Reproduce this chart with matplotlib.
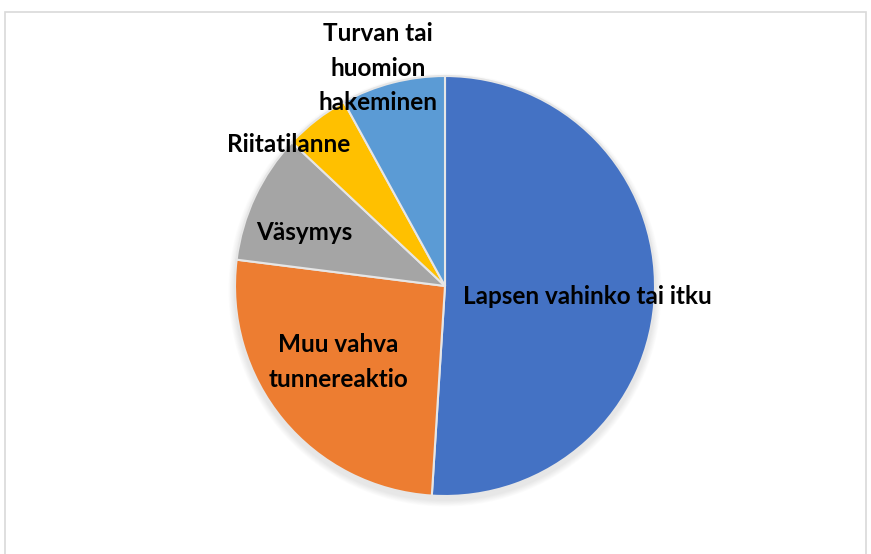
import matplotlib.pyplot as plt
from matplotlib.patches import Rectangle, Circle

# ----------------------------------------------------------
# Data (share of cases, %)
# ----------------------------------------------------------

labels = [
    "Lapsen vahinko tai itku",
    "Muu vahva\ntunnereaktio",
    "Väsymys",
    "Riitatilanne",
    "Turvan tai\nhuomion\nhakeminen",
]
values = [51, 26, 10, 5, 8]
colors = ["#4472C4", "#ED7D31", "#A5A5A5", "#FFC000", "#5B9BD5"]

# label positions in pixel space (x, y from top)
label_pos = [(587, 297), (338, 362), (304, 232), (289, 144), (378, 68)]

W, H = 871, 554

fig = plt.figure(figsize=(W / 100, H / 100), dpi=100)
ax = fig.add_axes([0, 0, 1, 1])
ax.set_xlim(0, W)
ax.set_ylim(0, H)
ax.set_aspect("equal")
ax.axis("off")

cx, cy, r = 445, H - 286, 210

# soft shadow under the pie
for i in range(8):
    ax.add_patch(Circle((cx, cy - 4), r + 1 + i * 0.8, color="black",
                        alpha=0.012, lw=0, zorder=0))

ax.pie(
    values,
    colors=colors,
    startangle=90,
    counterclock=False,
    center=(cx, cy),
    radius=r,
    wedgeprops={"edgecolor": "#E6E6E6", "linewidth": 1.5},
    frame=True,
)
ax.set_xlim(0, W)
ax.set_ylim(0, H)
ax.axis("off")

for lab, (x, y) in zip(labels, label_pos):
    ax.text(x, H - y, lab, ha="center", va="center", fontsize=17.5,
            fontweight="bold", family="Lato", linespacing=1.6,
            color="black", zorder=5)

# chart area border
fig.patches.append(Rectangle((5 / W, -0.05), 861 / W, 1.05 - 12 / H,
                             transform=fig.transFigure, fill=False,
                             edgecolor="#D9D9D9", linewidth=1.2))

fig.savefig("out.png", dpi=100)
